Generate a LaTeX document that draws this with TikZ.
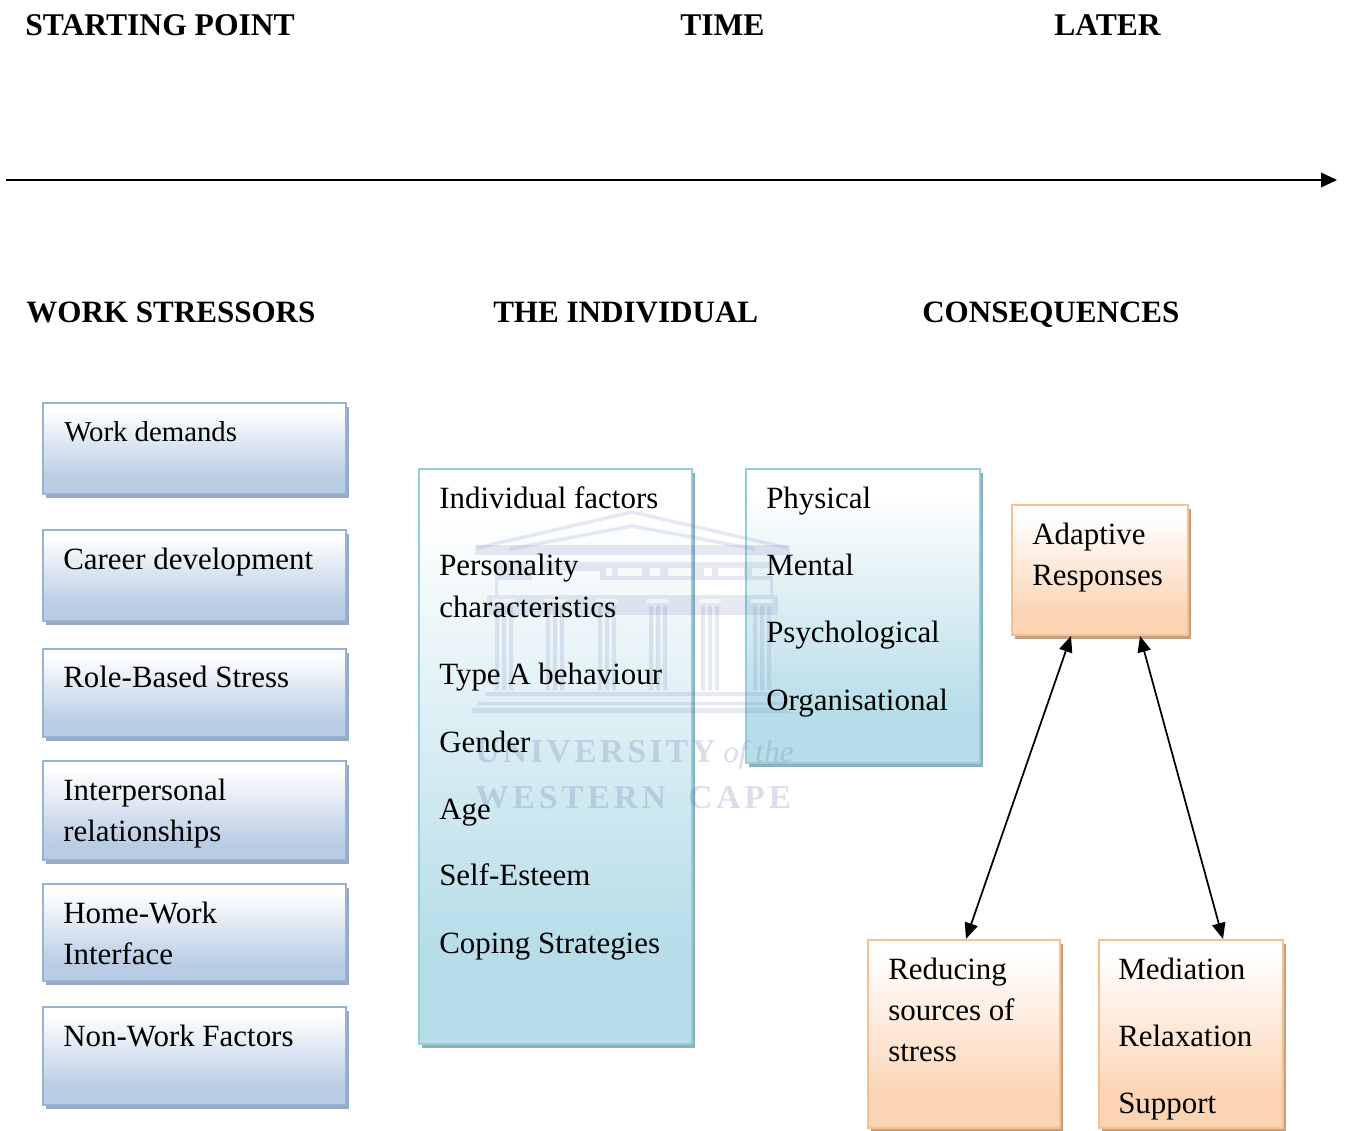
\documentclass[tikz,border=0pt]{standalone}
\usepackage{fontspec}
\setmainfont{Liberation Serif}
\newfontfamily\wmfont[LetterSpace=10.4]{Liberation Serif}
\newfontfamily\wmfontb[LetterSpace=12]{Liberation Serif}
\usetikzlibrary{arrows.meta,calc}
\definecolor{bluefill}{HTML}{B8CCE4}\definecolor{blueline}{HTML}{95B3D7}\definecolor{blueshadow}{HTML}{9AA8C2}
\definecolor{tealfill}{HTML}{B6DDE8}\definecolor{tealline}{HTML}{92CDDC}\definecolor{tealshadow}{HTML}{8FB0BA}
\definecolor{orangefill}{HTML}{FBD4B4}\definecolor{orangeline}{HTML}{FABF8F}\definecolor{orangeshadow}{HTML}{C4A080}
\definecolor{wmcol}{HTML}{6A78B4}
\pgfdeclareverticalshading{blueshade}{100bp}{color(0bp)=(bluefill); color(33bp)=(bluefill); color(71bp)=(white); color(100bp)=(white)}
\pgfdeclareverticalshading{tealshade}{100bp}{color(0bp)=(tealfill); color(33bp)=(tealfill); color(71bp)=(white); color(100bp)=(white)}
\pgfdeclareverticalshading{orangeshade}{100bp}{color(0bp)=(orangefill); color(33bp)=(orangefill); color(71bp)=(white); color(100bp)=(white)}
\tikzset{
  x=0.75pt,y=-0.75pt,
  boxbase/.style={rectangle,inner sep=0pt,outer sep=0pt,line width=1.6pt,anchor=north west},
  bluebox/.style={boxbase,draw=blueline,shading=blueshade,shading angle=0,
    preaction={fill=blueshadow,transform canvas={xshift=2.2pt,yshift=-3pt}}},
  tealbox/.style={boxbase,draw=tealline,shading=tealshade,shading angle=0,
    preaction={fill=tealshadow,transform canvas={xshift=2.2pt,yshift=-3pt}}},
  orangebox/.style={boxbase,draw=orangeline,shading=orangeshade,shading angle=0,
    preaction={fill=orangeshadow,transform canvas={xshift=2.2pt,yshift=-3pt}}},
  boxlabel/.style={anchor=base west,inner sep=0pt,font=\fontsize{23.2pt}{25pt}\selectfont,text=black},
  header/.style={anchor=base west,inner sep=0pt,font=\fontsize{23.7pt}{26pt}\selectfont\bfseries,text=black},
  headerb/.style={anchor=base west,inner sep=0pt,font=\fontsize{23.3pt}{26pt}\selectfont\bfseries,text=black},
  wmtext/.style={anchor=base west,inner sep=0pt,text=wmcol,opacity=.25},
  wmshape/.style={fill=wmcol,opacity=.16,draw=none},
  wmline/.style={draw=wmcol,opacity=.16,line width=2.6pt,line join=miter},
  link/.style={line width=1.3pt,draw=black},
  tips/.style={{Triangle[length=12pt,width=10pt]}-{Triangle[length=12pt,width=10pt]}},
}
\newcommand{\mkbox}[6]{\node[#1,minimum width=#4*0.75pt-#2*0.75pt,minimum height=#5*0.75pt-#3*0.75pt] (#6) at (#2,#3) {};}
\begin{document}
\begin{tikzpicture}
\useasboundingbox[fill=white] (0,0) rectangle (1347,1131);
% headers
\node[header] (h1) at (25,36) {STARTING POINT};
\node[header] (h2) at (680,36) {TIME};
\node[header] (h3) at (1054,36) {LATER};
\node[headerb] (h4) at (26,322) {WORK STRESSORS};
\node[headerb] (h5) at (493,322) {THE INDIVIDUAL};
\node[headerb] (h6) at (922,322) {CONSEQUENCES};
% time axis
\coordinate (axisL) at (6,180);
\coordinate (axisR) at (1337,180);
\draw[link,-{Triangle[length=12pt,width=11pt]}] (axisL) -- (axisR);
% boxes
\mkbox{bluebox}{43}{403}{346}{494}{b1}
\mkbox{bluebox}{43}{530}{346}{621}{b2}
\mkbox{bluebox}{43}{649}{346}{737}{b3}
\mkbox{bluebox}{43}{761}{346}{860}{b4}
\mkbox{bluebox}{43}{884}{346}{981}{b5}
\mkbox{bluebox}{43}{1007}{346}{1105}{b6}
\mkbox{tealbox}{419}{469}{692}{1044}{t1}
\mkbox{tealbox}{746}{469}{980}{763}{t2}
\mkbox{orangebox}{1012}{505}{1188}{635}{o1}
\mkbox{orangebox}{868}{940}{1060}{1128}{o2}
\mkbox{orangebox}{1099}{940}{1283}{1128}{o3}
% watermark
\draw[wmline] (477,548) -- (632,512) -- (788,548);
\draw[wmline] (510,549) -- (632,526) -- (755,549);
\fill[wmshape] (475,545) rectangle (790,555);
% frieze with its blocks
\fill[wmshape] (495,562) rectangle (532,580) (540,562) rectangle (600,571)
  (600,562) rectangle (773,568) (600,576) rectangle (773,580)
  (600,568) rectangle (606,576) (612,568) rectangle (618,576) (642,568) rectangle (650,576)
  (660,568) rectangle (668,576) (692,568) rectangle (704,576) (712,568) rectangle (718,576)
  (744,568) rectangle (752,576);
\fill[wmshape] (495,580) rectangle (498,595) (770,580) rectangle (773,595);
\fill[wmshape] (487,595) rectangle (778,615);
\foreach \cx in {504,555,607,658,710,762}{
  \fill[white,opacity=.55] (\cx-11,599) rectangle (\cx+11,603);
  \fill[wmshape] (\cx-9,606) rectangle (\cx-5,690) (\cx-2,606) rectangle (\cx+2,690) (\cx+5,606) rectangle (\cx+9,690);
}
\fill[wmshape] (485,692) rectangle (780,696) (478,702) rectangle (785,705) (472,708) rectangle (790,713);
\node[wmtext,font=\fontsize{25pt}{27pt}\selectfont\wmfont\bfseries] (w1) at (475,762) {UNIVERSITY};
\node[wmtext,font=\fontsize{23.5pt}{27pt}\selectfont\itshape] (w2) at (723,762) {of the};
\node[wmtext,font=\fontsize{25pt}{27pt}\selectfont\wmfontb\bfseries] (w3) at (475,808) {WESTERN};
\node[wmtext,font=\fontsize{25pt}{27pt}\selectfont\wmfontb\bfseries] (w4) at (688,808) {CAPE};
% labels
\node[boxlabel,font=\fontsize{21.6pt}{24pt}\selectfont] (l1) at (64,441) {Work demands};
\node[boxlabel] (l2) at (63,569) {Career development};
\node[boxlabel] (l3) at (63,687) {Role-Based Stress};
\node[boxlabel] (l4a) at (63,800) {Interpersonal};
\node[boxlabel] (l4b) at (63,841) {relationships};
\node[boxlabel] (l5a) at (63,923) {Home-Work};
\node[boxlabel] (l5b) at (63,964) {Interface};
\node[boxlabel] (l6) at (63,1046) {Non-Work Factors};
\node[boxlabel] (m1) at (439,508) {Individual factors};
\node[boxlabel] (m2) at (439,575) {Personality};
\node[boxlabel] (m3) at (439,617) {characteristics};
\node[boxlabel] (m4) at (439,684) {Type A behaviour};
\node[boxlabel] (m5) at (439,752) {Gender};
\node[boxlabel] (m6) at (439,819) {Age};
\node[boxlabel] (m7) at (439,885) {Self-Esteem};
\node[boxlabel] (m8) at (439,953) {Coping Strategies};
\node[boxlabel] (n1) at (766,508) {Physical};
\node[boxlabel] (n2) at (766,575) {Mental};
\node[boxlabel] (n3) at (766,642) {Psychological};
\node[boxlabel] (n4) at (766,710) {Organisational};
\node[boxlabel] (p1) at (1032,544) {Adaptive};
\node[boxlabel] (p2) at (1032,585) {Responses};
\node[boxlabel] (q1) at (888,979) {Reducing};
\node[boxlabel] (q2) at (888,1020) {sources of};
\node[boxlabel] (q3) at (888,1061) {stress};
\node[boxlabel] (r1) at (1118,979) {Mediation};
\node[boxlabel] (r2) at (1118,1046) {Relaxation};
\node[boxlabel] (r3) at (1118,1113) {Support};
% connectors
\coordinate (aL) at ($(o1.south west)+(59,1)$);
\coordinate (aR) at ($(o1.south west)+(128,1)$);
\coordinate (cL) at ($(o2.north west)+(98,-1)$);
\coordinate (cR) at ($(o3.north west)+(124,-1)$);
\draw[link,tips] (aL) -- (cL);
\draw[link,tips] (aR) -- (cR);
\end{tikzpicture}
\end{document}
